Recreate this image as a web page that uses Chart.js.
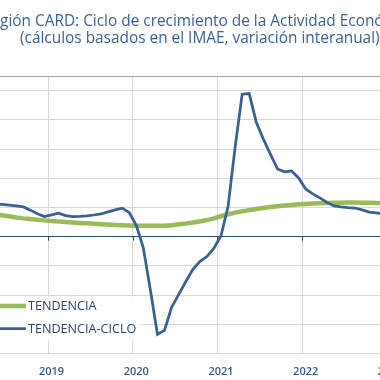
<!DOCTYPE html>
<html><head><meta charset="utf-8">
<script src="https://cdn.jsdelivr.net/npm/chart.js@4.4.0/dist/chart.umd.min.js"></script>
<style>
html,body{margin:0;padding:0;background:#fff;overflow:hidden;width:380px;height:380px;}
#wrap{position:absolute;left:-80px;top:0;width:560px;height:400px;}
</style></head><body>
<div id="wrap"><canvas id="c" width="560" height="400"></canvas></div>
<script>
const months = [
 "2018-01","2018-02","2018-03","2018-04","2018-05","2018-06","2018-07","2018-08","2018-09","2018-10","2018-11","2018-12",
 "2019-01","2019-02","2019-03","2019-04","2019-05","2019-06","2019-07","2019-08","2019-09","2019-10","2019-11","2019-12",
 "2020-01","2020-02","2020-03","2020-04","2020-05","2020-06","2020-07","2020-08","2020-09","2020-10","2020-11","2020-12",
 "2021-01","2021-02","2021-03","2021-04","2021-05","2021-06","2021-07","2021-08","2021-09","2021-10","2021-11","2021-12",
 "2022-01","2022-02","2022-03","2022-04","2022-05","2022-06","2022-07","2022-08","2022-09","2022-10","2022-11","2022-12",
 "2023-01","2023-02","2023-03","2023-04","2023-05","2023-06","2023-07"
];
const tendencia = [
 4.45,4.30,4.15,4.00,3.85,3.69,3.50,3.30,3.14,3.02,2.91,2.80,
 2.68,2.60,2.52,2.44,2.37,2.30,2.22,2.15,2.08,2.02,1.97,1.93,
 1.90,1.88,1.87,1.87,1.90,1.96,2.15,2.28,2.45,2.62,2.85,3.15,
 3.50,3.85,4.12,4.35,4.55,4.75,4.92,5.08,5.22,5.34,5.45,5.54,
 5.62,5.69,5.74,5.78,5.81,5.83,5.84,5.84,5.83,5.80,5.76,5.72,
 null,null,null,null,null,null,null
];
const tendenciaCiclo = [
 5.60,5.65,5.60,5.60,5.58,5.54,5.40,5.28,5.10,4.55,3.92,3.46,
 3.75,4.04,3.62,3.46,3.49,3.58,3.72,3.90,4.26,4.60,4.89,4.15,
 1.96,-1.88,-9.10,-16.70,-16.00,-12.10,-9.90,-7.70,-5.60,-4.26,-3.40,-1.96,
 0.17,5.11,15.30,24.40,24.50,19.60,16.70,14.15,11.60,11.10,11.25,10.06,
 8.18,7.33,6.65,5.88,5.28,5.11,4.99,4.91,4.60,4.21,4.09,3.92,
 null,null,null,null,null,null,null
];
const yTicks = [-20,-15,-10,-5,0,5,10,15,20,25,27.5];
const seriesLabels = ["TENDENCIA","TENDENCIA-CICLO"];
const titleLines = ["Región CARD: Ciclo de crecimiento de la Actividad Económica","(cálculos basados en el IMAE, variación interanual)"];

const GREEN = '#9BBB59', BLUE = '#3A6096';

const legendBox = {
  id: 'legendBox',
  beforeDatasetsDraw(chart) {
    const {ctx, chartArea} = chart;
    const L = chartArea.left, B = chartArea.bottom;
    ctx.save();
    ctx.fillStyle = '#ffffff';
    ctx.fillRect(L, B - 57, 177, 44);
    const rows = [B - 47.5, B - 25];
    chart.data.datasets.forEach((ds, i) => {
      const y = rows[i];
      ctx.strokeStyle = ds.borderColor;
      ctx.lineWidth = ds.borderWidth;
      ctx.beginPath();
      ctx.moveTo(L + 22, y);
      ctx.lineTo(L + 62.7, y);
      ctx.stroke();
      ctx.fillStyle = '#2B4470';
      ctx.font = '12.6px "Open Sans"';
      ctx.textBaseline = 'middle';
      ctx.textAlign = 'left';
      ctx.fillText(ds.label, L + 64.7, y + 0.5);
    });
    ctx.restore();
  }
};

const zeroTicks = {
  id: 'zeroTicks',
  beforeDatasetsDraw(chart) {
    const {ctx} = chart;
    const xs = chart.scales.x, ys = chart.scales.y;
    const y0 = ys.getPixelForValue(0);
    const half = (xs.getPixelForValue(1) - xs.getPixelForValue(0)) / 2;
    ctx.save();
    ctx.strokeStyle = '#2F4B7C';
    ctx.lineWidth = 1;
    months.forEach((m, i) => {
      if (m.endsWith('-01')) {
        const x = Math.round(xs.getPixelForValue(i) - half) + 0.5;
        ctx.beginPath();
        ctx.moveTo(x, y0);
        ctx.lineTo(x, y0 + 4);
        ctx.stroke();
      }
    });
    ctx.restore();
  }
};

new Chart(document.getElementById('c'), {
  type: 'line',
  data: {
    labels: months,
    datasets: [
      {label: seriesLabels[0], data: tendencia, borderColor: GREEN, borderWidth: 4.5, pointRadius: 0, tension: 0, order: 1, fill: false},
      {label: seriesLabels[1], data: tendenciaCiclo, borderColor: BLUE, borderWidth: 2.75, pointRadius: 0, tension: 0, order: 0, fill: false}
    ]
  },
  options: {
    responsive: false,
    animation: false,
    events: [],
    layout: {padding: {left: 43.3, right: 43.7, top: 0, bottom: 10.4}},
    plugins: {
      legend: {display: false},
      tooltip: {enabled: false},
      title: {
        display: true,
        text: titleLines,
        color: '#3A5FA0',
        font: {family: '"Open Sans"', size: 15.4, weight: 'normal', lineHeight: 1.05},
        padding: {top: 13.9, bottom: 29.8}
      }
    },
    scales: {
      x: {
        type: 'category',
        offset: true,
        grid: {
          offset: true,
          drawTicks: false,
          lineWidth: 1,
          color: c => (c.index % 12 === 0) ? '#D9D9D9' : 'rgba(0,0,0,0)'
        },
        border: {display: false},
        ticks: {
          autoSkip: false,
          maxRotation: 0,
          padding: 11.4,
          color: '#3B5A8C',
          font: {family: '"Open Sans"', size: 11, weight: '600'},
          callback: function(v) {
            const m = this.getLabelForValue(v);
            return m.endsWith('-01') ? m.slice(0, 4) : '';
          }
        }
      },
      y: {
        min: -20, max: 27.5,
        afterBuildTicks: axis => { axis.ticks = yTicks.map(v => ({value: v})); },
        grid: {
          drawTicks: false,
          lineWidth: 1,
          color: c => c.tick && c.tick.value === 0 ? '#2F4B7C' : (c.tick && c.tick.value === 27.5 ? '#A6A6A6' : '#D9D9D9')
        },
        border: {display: false},
        ticks: {display: false}
      }
    }
  },
  plugins: [legendBox, zeroTicks]
});
</script>
</body></html>
